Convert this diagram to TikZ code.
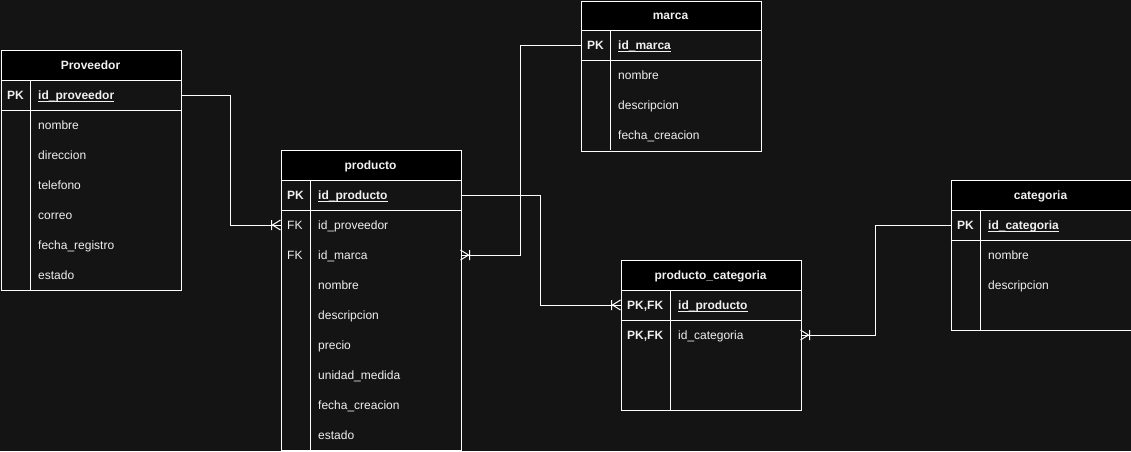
\documentclass[tikz,border=0pt]{standalone}
\usepackage{fontspec}
\setmainfont{Liberation Sans}
\definecolor{bgc}{RGB}{20,20,20}
\definecolor{fgc}{RGB}{240,240,240}
\newcommand\pkul[1]{\setbox0\hbox{#1}\rlap{\rule[-2pt]{\wd0}{1pt}}\box0}
\tikzset{
  tblbox/.style={draw=white, line width=1pt, minimum width=180pt, anchor=north west, inner sep=0pt},
  hdrbox/.style={draw=white, fill=black, line width=1pt, minimum width=180pt, minimum height=30pt, anchor=north west, inner sep=0pt},
  hdrtxt/.style={anchor=base, text=fgc, inner sep=0pt, font=\fontsize{12}{14}\selectfont\bfseries},
  keytxt/.style={anchor=base west, text=fgc, inner sep=0pt, font=\fontsize{12}{14}\selectfont\bfseries},
  fktxt/.style={anchor=base west, text=fgc, inner sep=0pt, font=\fontsize{12}{14}\selectfont},
  pktxt/.style={anchor=base west, text=fgc, inner sep=0pt, font=\fontsize{12}{14}\selectfont\bfseries},
  fldtxt/.style={anchor=base west, text=fgc, inner sep=0pt, font=\fontsize{12}{14}\selectfont},
  rowbox/.style={minimum width=180pt, minimum height=30pt, inner sep=0pt, outer sep=0pt},
  sepline/.style={draw=white, line width=1pt},
  link/.style={draw=white, line width=1pt},
  crowfoot/.style={draw=white, line width=1pt}
}
\newcommand\ercrowL[1]{%
  \draw[crowfoot] ([xshift=-8pt]#1) -- ([yshift=5pt]#1)
                  ([xshift=-8pt]#1) -- ([yshift=-5pt]#1)
                  ([xshift=-9pt,yshift=5pt]#1) -- ([xshift=-9pt,yshift=-5pt]#1);}
\newcommand\ercrowR[1]{%
  \draw[crowfoot] ([xshift=8pt]#1) -- ([yshift=5pt]#1)
                  ([xshift=8pt]#1) -- ([yshift=-5pt]#1)
                  ([xshift=9pt,yshift=5pt]#1) -- ([xshift=9pt,yshift=-5pt]#1);}
\begin{document}
\begin{tikzpicture}[x=1pt,y=-1pt]
\fill[bgc] (0,0) rectangle (1131,451);
\useasboundingbox (0,0) rectangle (1131,451);

% ---------------- Proveedor (x=0, top=50, bottom=290)
\node[tblbox, minimum height=240pt] (prov) at (0.5,50) {};
\node[hdrbox] (prov-h) at (0.5,50) {};
\node[hdrtxt] (prov-t) at (90.5,69.5) {Proveedor};
\draw[sepline] (0.5,110) -- (180.5,110);
\draw[sepline] (30.5,80) -- (30.5,290);
\node[rowbox] (prov-pk) at (90.5,95) {};
\node[keytxt] (prov-k1) at (7,99.5) {PK};
\node[pktxt] (prov-f1) at (38,99.5) {\pkul{id\_proveedor}};
\node[fldtxt] (prov-f2) at (38,129.5) {nombre};
\node[fldtxt] (prov-f3) at (38,159.5) {direccion};
\node[fldtxt] (prov-f4) at (38,189.5) {telefono};
\node[fldtxt] (prov-f5) at (38,219.5) {correo};
\node[fldtxt] (prov-f6) at (38,249.5) {fecha\_registro};
\node[fldtxt] (prov-f7) at (38,279.5) {estado};

% ---------------- producto (x=280, top=150, bottom=450)
\node[tblbox, minimum height=300pt] (prod) at (280.5,150) {};
\node[hdrbox] (prod-h) at (280.5,150) {};
\node[hdrtxt] (prod-t) at (370.5,169.5) {producto};
\draw[sepline] (280.5,210) -- (460.5,210);
\draw[sepline] (310.5,180) -- (310.5,450);
\node[rowbox] (prod-pk) at (370.5,195) {};
\node[rowbox] (prod-fk1) at (370.5,225) {};
\node[rowbox] (prod-fk2) at (370.5,255) {};
\node[keytxt] (prod-k1) at (287,199.5) {PK};
\node[fktxt] (prod-k2) at (287,229.5) {FK};
\node[fktxt] (prod-k3) at (287,259.5) {FK};
\node[pktxt] (prod-f1) at (318,199.5) {\pkul{id\_producto}};
\node[fldtxt] (prod-f2) at (318,229.5) {id\_proveedor};
\node[fldtxt] (prod-f3) at (318,259.5) {id\_marca};
\node[fldtxt] (prod-f4) at (318,289.5) {nombre};
\node[fldtxt] (prod-f5) at (318,319.5) {descripcion};
\node[fldtxt] (prod-f6) at (318,349.5) {precio};
\node[fldtxt] (prod-f7) at (318,379.5) {unidad\_medida};
\node[fldtxt] (prod-f8) at (318,409.5) {fecha\_creacion};
\node[fldtxt] (prod-f9) at (318,439.5) {estado};

% ---------------- marca (x=580, top=0, bottom=150)
\node[tblbox, minimum height=150pt] (marca) at (580.5,0.5) {};
\node[hdrbox, minimum height=29.5pt] (marca-h) at (580.5,0.5) {};
\node[hdrtxt] (marca-t) at (670.5,19.5) {marca};
\draw[sepline] (580.5,60) -- (760.5,60);
\draw[sepline] (610.5,30) -- (610.5,150);
\node[rowbox] (marca-pk) at (670.5,45) {};
\node[keytxt] (marca-k1) at (587,49.5) {PK};
\node[pktxt] (marca-f1) at (618,49.5) {\pkul{id\_marca}};
\node[fldtxt] (marca-f2) at (618,79.5) {nombre};
\node[fldtxt] (marca-f3) at (618,109.5) {descripcion};
\node[fldtxt] (marca-f4) at (618,139.5) {fecha\_creacion};

% ---------------- categoria (x=950, top=180, bottom=330)
\node[tblbox, minimum height=150pt] (cat) at (950.5,180) {};
\node[hdrbox] (cat-h) at (950.5,180) {};
\node[hdrtxt] (cat-t) at (1040.5,199.5) {categoria};
\draw[sepline] (950.5,240) -- (1130.5,240);
\draw[sepline] (980.5,210) -- (980.5,330);
\node[rowbox] (cat-pk) at (1040.5,225) {};
\node[keytxt] (cat-k1) at (957,229.5) {PK};
\node[pktxt] (cat-f1) at (988,229.5) {\pkul{id\_categoria}};
\node[fldtxt] (cat-f2) at (988,259.5) {nombre};
\node[fldtxt] (cat-f3) at (988,289.5) {descripcion};

% ---------------- producto_categoria (x=620, top=260, bottom=410)
\node[tblbox, minimum height=150pt] (pc) at (620.5,260) {};
\node[hdrbox] (pc-h) at (620.5,260) {};
\node[hdrtxt] (pc-t) at (710.5,279.5) {producto\_categoria};
\draw[sepline] (620.5,320) -- (800.5,320);
\draw[sepline] (670.5,290) -- (670.5,410);
\node[rowbox] (pc-pk) at (710.5,305) {};
\node[rowbox] (pc-fk) at (710.5,335) {};
\node[keytxt] (pc-k1) at (627,309.5) {PK,FK};
\node[keytxt] (pc-k2) at (627,339.5) {PK,FK};
\node[pktxt] (pc-f1) at (678,309.5) {\pkul{id\_producto}};
\node[fldtxt] (pc-f2) at (678,339.5) {id\_categoria};

% ---------------- connectors
\draw[link] (prov-pk.east) -- ++(50,0) |- (prod-fk1.west);
\ercrowL{prod-fk1.west}
\draw[link] (marca-pk.west) -- ++(-60,0) |- (prod-fk2.east);
\ercrowR{prod-fk2.east}
\draw[link] (prod-pk.east) -- ++(80,0) |- (pc-pk.west);
\ercrowL{pc-pk.west}
\draw[link] (cat-pk.west) -- ++(-75,0) |- (pc-fk.east);
\ercrowR{pc-fk.east}
\end{tikzpicture}
\end{document}
